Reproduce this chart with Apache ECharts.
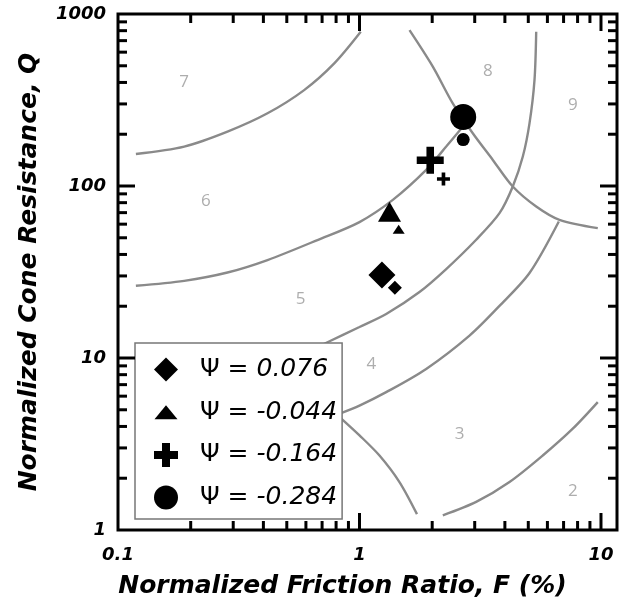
<!DOCTYPE html>
<html>
<head>
<meta charset="utf-8">
<script src="https://cdn.jsdelivr.net/npm/echarts@6/dist/echarts.min.js"></script>
<style>
  html, body { margin: 0; padding: 0; background: #fff; }
  #chart { width: 623px; height: 604px; }
</style>
</head>
<body>
<div id="chart"></div>
<script>
// Axis ranges and tick labels
const F_MIN = 0.1, F_MAX = 11.65;
const Q_MIN = 1, Q_MAX = 1000;
const xLabelValues = [0.1, 1, 10];
const xLabelTexts = ['0.1', '1', '10'];
const yLabelValues = [1, 10, 100, 1000];
const yLabelTexts = ['1', '10', '100', '1000'];
const xMinorTicks = [0.2, 0.3, 0.4, 0.5, 0.6, 0.7, 0.8, 0.9, 2, 3, 4, 5, 6, 7, 8, 9];
const xMajorTicks = [1, 10];
const yMinorTicks = [2, 3, 4, 5, 6, 7, 8, 9, 20, 30, 40, 50, 60, 70, 80, 90, 200, 300, 400, 500, 600, 700, 800, 900];
const yMajorTicks = [10, 100];

// Test results: first point = larger marker, second point = smaller marker
const psiValues = ['0.076', '-0.044', '-0.164', '-0.284'];
const diamondF = [1.239, 1.401];
const diamondQ = [30.4, 25.6];
const triangleF = [1.331, 1.453];
const triangleQ = [70.8, 56.0];
const plusF = [1.963, 2.227];
const plusQ = [141.2, 109.9];
const circleF = [2.688, 2.688];
const circleQ = [251.8, 186.2];

// Soil behaviour type zone boundaries
const b76F = [0.1186, 0.188, 0.284, 0.416, 0.590, 0.786, 1.012];
const b76Q = [153.6, 169.5, 207, 264.6, 361, 516, 788];
const b65F = [0.1186, 0.188, 0.284, 0.416, 0.670, 1.0, 1.374, 1.889, 2.286, 2.678];
const b65Q = [26.3, 28.1, 31.4, 37.1, 48.5, 61.7, 83.0, 124, 169.5, 221];
const b8F = [1.611, 2.012, 2.434, 2.945, 3.565, 4.313, 5.392, 6.73, 9.70];
const b8Q = [805, 494, 302, 202.5, 141.8, 99.3, 76.0, 63.6, 56.9];
const b54F = [5.392, 5.305, 5.058, 4.746, 4.313, 3.800, 3.042, 2.286, 1.772, 1.290, 1.0, 0.737, 0.565];
const b54Q = [788, 413, 231.4, 148.3, 99.3, 69.5, 48.7, 32.9, 24.2, 18.03, 15.15, 12.35, 10.3];
const b43F = [6.69, 5.058, 3.800, 2.855, 1.889, 1.290, 1.0, 0.834];
const b43Q = [62.2, 31.2, 20.1, 13.5, 8.64, 6.33, 5.29, 4.77];
const b3F = [0.834, 1.0, 1.210, 1.464, 1.730];
const b3Q = [4.49, 3.55, 2.71, 1.90, 1.237];
const b2F = [2.213, 3.042, 4.18, 5.74, 7.64, 9.70];
const b2Q = [1.217, 1.456, 1.90, 2.71, 3.88, 5.54];

// Zone numbers
const zoneNames = ['2', '3', '4', '5', '6', '7', '8', '9'];
const zoneF = [7.64, 2.595, 1.121, 0.571, 0.231, 0.188, 3.40, 7.64];
const zoneQ = [1.677, 3.63, 9.24, 22.0, 81.3, 404, 468, 295.6];

const zip = (a, b) => a.map((v, i) => [v, b[i]]);
const labelFor = (values, texts) => (v) => {
  const i = values.findIndex(t => Math.abs(Math.log10(v) - Math.log10(t)) < 1e-6);
  return i >= 0 ? texts[i] : '';
};

const PLUS = 'path://M-0.14,-0.5H0.14V-0.14H0.5V0.14H0.14V0.5H-0.14V0.14H-0.5V-0.14H-0.14Z';
const boldItalic = { fontFamily: 'DejaVu Sans', fontWeight: 'bold', fontStyle: 'italic', color: '#000' };

const boundaryStyle = { color: '#8a8a8a', width: 2.4 };
const boundary = (F, Q) => ({
  type: 'line', data: zip(F, Q), smooth: 0.3, symbol: 'none', silent: true, z: 1,
  lineStyle: boundaryStyle
});

const tickLine = (x1, y1, x2, y2) => ({
  type: 'line', shape: { x1, y1, x2, y2 }, style: { stroke: '#000', lineWidth: 3 }
});
const tickData = (vals, major, axis) =>
  vals.map(v => axis === 'x' ? [v, Q_MIN, major] : [F_MIN, v, major]);

const xTickSeries = {
  type: 'custom', silent: true, z: 5,
  data: tickData(xMinorTicks, 0, 'x').concat(tickData(xMajorTicks, 1, 'x')),
  renderItem: (params, api) => {
    const v = api.value(0), len = api.value(2) ? 17 : 9;
    const b = api.coord([v, Q_MIN]), t = api.coord([v, Q_MAX]);
    return { type: 'group', children: [
      tickLine(b[0], b[1], b[0], b[1] - len),
      tickLine(t[0], t[1], t[0], t[1] + len)
    ]};
  }
};
const yTickSeries = {
  type: 'custom', silent: true, z: 5,
  data: tickData(yMinorTicks, 0, 'y').concat(tickData(yMajorTicks, 1, 'y')),
  renderItem: (params, api) => {
    const v = api.value(1), len = api.value(2) ? 17 : 9;
    const l = api.coord([F_MIN, v]), r = api.coord([F_MAX, v]);
    return { type: 'group', children: [
      tickLine(l[0], l[1], l[0] + len, l[1]),
      tickLine(r[0], r[1], r[0] - len, r[1])
    ]};
  }
};

const markerSeries = (name, F, Q, symbol, sizes) => ({
  name, type: 'scatter', z: 3,
  data: zip(F, Q).map((p, i) => ({ value: p, symbolSize: sizes[i] })),
  symbol, itemStyle: { color: '#000', opacity: 1 }
});

const chart = echarts.init(document.getElementById('chart'), null, { renderer: 'canvas' });
chart.setOption({
  animation: false,
  backgroundColor: '#fff',
  grid: { left: 118, top: 14, right: 6, bottom: 73, show: true, borderColor: '#000', borderWidth: 3 },
  xAxis: {
    type: 'log', logBase: 10, min: F_MIN, max: F_MAX,
    name: 'Normalized Friction Ratio, F (%)', nameLocation: 'middle', nameGap: 44,
    nameTextStyle: Object.assign({ fontSize: 25, padding: [0, 50, 0, 0] }, boldItalic),
    axisLine: { show: false }, axisTick: { show: false }, splitLine: { show: false },
    axisLabel: Object.assign({ fontSize: 18, margin: 16, formatter: labelFor(xLabelValues, xLabelTexts) }, boldItalic)
  },
  yAxis: {
    type: 'log', logBase: 10, min: Q_MIN, max: Q_MAX,
    name: 'Normalized Cone Resistance, Q', nameLocation: 'middle', nameGap: 76,
    nameTextStyle: Object.assign({ fontSize: 25 }, boldItalic),
    axisLine: { show: false }, axisTick: { show: false }, splitLine: { show: false },
    axisLabel: Object.assign({ fontSize: 18, margin: 12, formatter: labelFor(yLabelValues, yLabelTexts) }, boldItalic)
  },
  legend: {
    orient: 'vertical', left: 135, top: 343,
    padding: [14, 5, 9, 19], itemWidth: 24, itemHeight: 24, itemGap: 17.7,
    backgroundColor: '#fff', borderColor: '#777', borderWidth: 1.5,
    selectedMode: false,
    data: [
      { name: psiValues[0], icon: 'path://M12,0L24,12L12,24L0,12Z' },
      { name: psiValues[1], icon: 'path://M0,0M24,24M12,5L23.5,19L0.5,19Z' },
      { name: psiValues[2], icon: 'path://M8,0H16V8H24V16H16V24H8V16H0V8H8Z' },
      { name: psiValues[3], icon: 'circle' }
    ],
    formatter: (name) => '{g|}{p|Ψ = }{n|' + name + '}',
    textStyle: {
      rich: {
        g: { width: 17 },
        p: { fontFamily: 'DejaVu Sans', fontSize: 25, fontStyle: 'normal', color: '#000', lineHeight: 26 },
        n: { fontFamily: 'DejaVu Sans', fontSize: 25, fontStyle: 'italic', color: '#000', lineHeight: 26 }
      }
    }
  },
  series: [
    boundary(b76F, b76Q),
    boundary(b65F, b65Q),
    boundary(b8F, b8Q),
    boundary(b54F, b54Q),
    boundary(b43F, b43Q),
    boundary(b3F, b3Q),
    boundary(b2F, b2Q),
    {
      type: 'scatter', silent: true, z: 2, symbolSize: 1,
      itemStyle: { color: 'rgba(0,0,0,0)' },
      data: zoneNames.map((n, i) => ({ name: n, value: [zoneF[i], zoneQ[i]] })),
      label: { show: true, position: 'inside', formatter: '{b}', color: '#999',
               fontFamily: 'Open Sans', fontSize: 17 }
    },
    markerSeries(psiValues[0], diamondF, diamondQ, 'diamond', [27, 14]),
    markerSeries(psiValues[1], triangleF, triangleQ, 'triangle', [[23, 20], [12, 9]]),
    markerSeries(psiValues[2], plusF, plusQ, PLUS, [27, 13]),
    markerSeries(psiValues[3], circleF, circleQ, 'circle', [26, 13]),
    xTickSeries,
    yTickSeries
  ]
});
</script>
</body>
</html>
